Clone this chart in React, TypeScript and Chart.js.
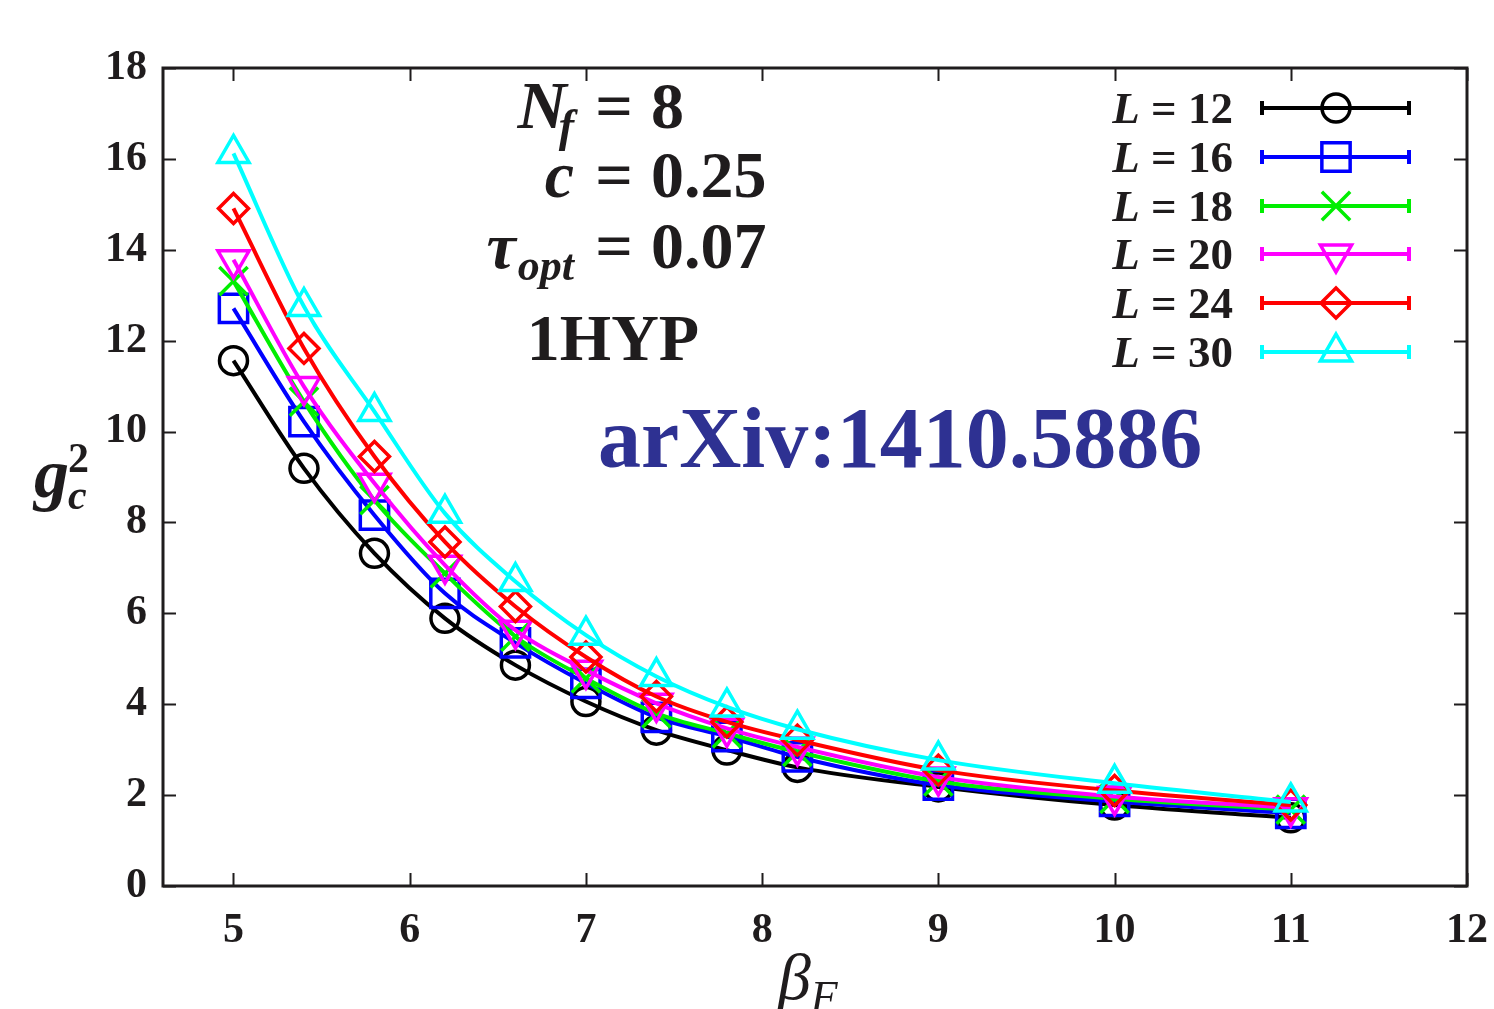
import React, { useEffect, useRef } from "react";
import { Chart, registerables } from "chart.js";

Chart.register(...registerables);

// beta_F values of the simulations
const betaF = [5, 5.4, 5.8, 6.2, 6.6, 7.0, 7.4, 7.8, 8.2, 9, 10, 11];

// g_c^2 for each lattice size L
const gL12 = [11.56, 9.19, 7.32, 5.89, 4.86, 4.06, 3.43, 2.99, 2.61, 2.18, 1.78, 1.5];
const gL16 = [12.71, 10.22, 8.16, 6.44, 5.35, 4.46, 3.71, 3.29, 2.84, 2.22, 1.86, 1.6];
const gL18 = [13.31, 10.66, 8.49, 6.88, 5.49, 4.57, 3.8, 3.36, 2.95, 2.3, 1.92, 1.68];
const gL20 = [13.78, 10.99, 8.86, 7.06, 5.63, 4.75, 4.02, 3.47, 3.06, 2.4, 1.97, 1.72];
const gL24 = [14.91, 11.83, 9.45, 7.57, 6.15, 5.04, 4.17, 3.61, 3.21, 2.55, 2.1, 1.78];
const gL30 = [16.12, 12.75, 10.44, 8.2, 6.7, 5.52, 4.61, 3.94, 3.45, 2.77, 2.26, 1.85];

const sizeLabels = ["12", "16", "18", "20", "24", "30"];
const xTickValues = [5, 6, 7, 8, 9, 10, 11, 12];
const yTickValues = [0, 2, 4, 6, 8, 10, 12, 14, 16, 18];

const SERIF = '"Liberation Serif", "DejaVu Serif", "Times New Roman", serif';
const INK = "#1f1c1d";

type MarkerStyle = {
  color: string;
  shape: "circle" | "rect" | "crossRot" | "triangle" | "rectRot";
  radius: number;
  rotation: number;
};

const markerStyles: MarkerStyle[] = [
  { color: "#000000", shape: "circle", radius: 14, rotation: 0 },
  { color: "#0000ff", shape: "rect", radius: 20, rotation: 0 },
  { color: "#00ee00", shape: "crossRot", radius: 20, rotation: 0 },
  { color: "#ff00ff", shape: "triangle", radius: 18, rotation: 180 },
  { color: "#ff0000", shape: "rectRot", radius: 15, rotation: 0 },
  { color: "#00ffff", shape: "triangle", radius: 18, rotation: 0 },
];

const seriesValues = [gL12, gL16, gL18, gL20, gL24, gL30];

const LINE_W = 4;
const MARK_W = 3.5;

// same geometry as Chart.js point styles, used for the key
function drawMarker(ctx: CanvasRenderingContext2D, m: MarkerStyle, x: number, y: number) {
  const r = m.radius;
  const rad = (m.rotation * Math.PI) / 180;
  ctx.save();
  ctx.strokeStyle = m.color;
  ctx.lineWidth = MARK_W;
  ctx.beginPath();
  if (m.shape === "circle") {
    ctx.arc(x, y, r, 0, Math.PI * 2);
    ctx.closePath();
  } else if (m.shape === "rect") {
    const s = r / Math.SQRT2;
    ctx.rect(x - s, y - s, 2 * s, 2 * s);
  } else if (m.shape === "rectRot") {
    ctx.moveTo(x, y - r);
    ctx.lineTo(x + r, y);
    ctx.lineTo(x, y + r);
    ctx.lineTo(x - r, y);
    ctx.closePath();
  } else if (m.shape === "crossRot") {
    const a = rad + Math.PI / 4;
    const xo = Math.cos(a) * r;
    const yo = Math.sin(a) * r;
    ctx.moveTo(x - xo, y - yo);
    ctx.lineTo(x + xo, y + yo);
    ctx.moveTo(x + yo, y - xo);
    ctx.lineTo(x - yo, y + xo);
  } else {
    const third = (2 * Math.PI) / 3;
    ctx.moveTo(x + Math.sin(rad) * r, y - Math.cos(rad) * r);
    ctx.lineTo(x + Math.sin(rad + third) * r, y - Math.cos(rad + third) * r);
    ctx.lineTo(x + Math.sin(rad + 2 * third) * r, y - Math.cos(rad + 2 * third) * r);
    ctx.closePath();
  }
  ctx.stroke();
  ctx.restore();
}

type Run = { text: string; font: string; dy?: number; dx?: number };

function runsWidth(ctx: CanvasRenderingContext2D, runs: Run[]) {
  let w = 0;
  for (const r of runs) {
    ctx.font = r.font;
    w += ctx.measureText(r.text).width + (r.dx || 0);
  }
  return w;
}

function drawRuns(
  ctx: CanvasRenderingContext2D,
  x: number,
  y: number,
  runs: Run[],
  align: "left" | "right" | "center",
  color = INK
) {
  const w = runsWidth(ctx, runs);
  let cx = align === "left" ? x : align === "right" ? x - w : x - w / 2;
  ctx.save();
  ctx.fillStyle = color;
  ctx.textAlign = "left";
  ctx.textBaseline = "alphabetic";
  for (const r of runs) {
    ctx.font = r.font;
    cx += r.dx || 0;
    ctx.fillText(r.text, cx, y + (r.dy || 0));
    cx += ctx.measureText(r.text).width;
  }
  ctx.restore();
}

const f = (style: string, size: number) => `${style} ${size}px ${SERIF}`;

const decorPlugin = {
  id: "frameAndNotes",
  afterDatasetsDraw(chart: any) {
    const ctx: CanvasRenderingContext2D = chart.ctx;
    const { left, right, top, bottom } = chart.chartArea;
    const xs = chart.scales.x;
    const ys = chart.scales.y;
    ctx.save();
    ctx.strokeStyle = INK;
    // inward ticks on all four sides
    ctx.lineWidth = 2;
    const tl = 13;
    ctx.beginPath();
    for (const v of xTickValues) {
      const px = Math.round(xs.getPixelForValue(v)) + 0.5;
      ctx.moveTo(px, bottom);
      ctx.lineTo(px, bottom - tl);
      ctx.moveTo(px, top);
      ctx.lineTo(px, top + tl);
    }
    for (const v of yTickValues) {
      const py = Math.round(ys.getPixelForValue(v)) + 0.5;
      ctx.moveTo(left, py);
      ctx.lineTo(left + tl, py);
      ctx.moveTo(right, py);
      ctx.lineTo(right - tl, py);
    }
    ctx.stroke();
    // frame
    ctx.lineWidth = 3;
    ctx.strokeRect(left, top, right - left, bottom - top);
    ctx.restore();

    // parameter block
    const lhsRight = 574;
    const eqCenter = 614;
    const rhsLeft = 651;
    const big = 66;
    const eqRuns = (y: number) => drawRuns(ctx, eqCenter, y, [{ text: "=", font: f("bold", big) }], "center");
    drawRuns(ctx, lhsRight, 128, [
      { text: "N", font: f("italic bold", big + 2) },
      { text: "f", font: f("italic bold", 46), dy: 13, dx: -8 },
    ], "right");
    eqRuns(128);
    drawRuns(ctx, rhsLeft, 128, [{ text: "8", font: f("bold", big) }], "left");

    drawRuns(ctx, lhsRight, 197, [{ text: "c", font: f("italic bold", big) }], "right");
    eqRuns(197);
    drawRuns(ctx, rhsLeft, 197, [{ text: "0.25", font: f("bold", big) }], "left");

    drawRuns(ctx, lhsRight, 268, [
      { text: "\u03c4", font: f("italic bold", big) },
      { text: "opt", font: f("italic bold", 44), dy: 12, dx: 2 },
    ], "right");
    eqRuns(268);
    drawRuns(ctx, rhsLeft, 268, [{ text: "0.07", font: f("bold", big) }], "left");

    drawRuns(ctx, 613, 360, [{ text: "1HYP", font: f("bold", big) }], "center");

    // reference tag
    drawRuns(ctx, 598, 467, [{ text: "arXiv:1410.5886", font: f("bold", 86) }], "left", "#2e3192");

    // key
    const keyRows = [108, 157, 206, 254, 303, 352];
    const lineL = 1262;
    const lineR = 1409;
    const markX = 1336;
    markerStyles.forEach((m, i) => {
      const y = keyRows[i];
      drawRuns(ctx, 1233, y + 15, [
        { text: "L", font: f("italic bold", 45) },
        { text: " = " + sizeLabels[i], font: f("bold", 45) },
      ], "right");
      ctx.save();
      ctx.strokeStyle = m.color;
      ctx.lineWidth = LINE_W;
      ctx.beginPath();
      ctx.moveTo(lineL, y);
      ctx.lineTo(lineR, y);
      ctx.moveTo(lineL, y - 7);
      ctx.lineTo(lineL, y + 7);
      ctx.moveTo(lineR, y - 7);
      ctx.lineTo(lineR, y + 7);
      ctx.stroke();
      ctx.restore();
      drawMarker(ctx, m, markX, y);
    });

    // axis titles
    drawRuns(ctx, 34, 497, [{ text: "g", font: f("italic bold", 70) }], "left");
    drawRuns(ctx, 68, 472, [{ text: "2", font: f("bold", 42) }], "left");
    drawRuns(ctx, 68, 509, [{ text: "c", font: f("italic bold", 42) }], "left");

    drawRuns(ctx, 778, 999, [
      { text: "\u03b2", font: f("italic", 66) },
      { text: "F", font: f("italic", 44), dy: 12, dx: 0 },
    ], "left");
  },
};

export default function App() {
  const canvasRef = useRef<HTMLCanvasElement | null>(null);

  useEffect(() => {
    const canvas = canvasRef.current;
    if (!canvas) return;
    const tickFont = { family: SERIF, size: 42, weight: "bold" as const };
    const chart = new Chart(canvas, {
      type: "line",
      data: {
        datasets: markerStyles.map((m, i) => ({
          label: "L = " + sizeLabels[i],
          data: betaF.map((x, k) => ({ x, y: seriesValues[i][k] })),
          borderColor: m.color,
          backgroundColor: "rgba(0,0,0,0)",
          borderWidth: LINE_W,
          pointStyle: m.shape,
          pointRadius: m.radius,
          pointRotation: m.rotation,
          pointBorderWidth: MARK_W,
          pointBorderColor: m.color,
          pointBackgroundColor: "rgba(0,0,0,0)",
          cubicInterpolationMode: "monotone" as const,
          fill: false,
          order: markerStyles.length - i,
        })),
      },
      options: {
        animation: false,
        responsive: false,
        events: [],
        layout: { padding: { top: 68, right: 27, left: 0, bottom: 0 } },
        plugins: {
          legend: { display: false },
          tooltip: { enabled: false },
          title: { display: false },
        },
        scales: {
          x: {
            type: "linear",
            min: 4.6,
            max: 12,
            grid: { display: false },
            border: { display: false },
            afterBuildTicks: (s: any) => {
              s.ticks = xTickValues.map((v) => ({ value: v }));
            },
            afterFit: (s: any) => {
              s.height = 123;
              s.paddingLeft = 0;
              s.paddingRight = 0;
            },
            ticks: {
              font: tickFont,
              color: INK,
              padding: 12,
              maxRotation: 0,
              autoSkip: false,
            },
          },
          y: {
            type: "linear",
            min: 0,
            max: 18,
            grid: { display: false },
            border: { display: false },
            afterBuildTicks: (s: any) => {
              s.ticks = yTickValues.map((v) => ({ value: v }));
            },
            afterFit: (s: any) => {
              s.width = 163;
              s.paddingTop = 0;
              s.paddingBottom = 0;
            },
            ticks: {
              font: tickFont,
              color: INK,
              padding: 8,
              autoSkip: false,
            },
          },
        },
      },
      plugins: [decorPlugin],
    });
    return () => chart.destroy();
  }, []);

  return (
    <div style={{ position: "fixed", left: 0, top: 0, width: 1494, height: 1009, background: "#fff" }}>
      <canvas ref={canvasRef} width={1494} height={1009} style={{ display: "block", width: 1494, height: 1009 }} />
    </div>
  );
}
